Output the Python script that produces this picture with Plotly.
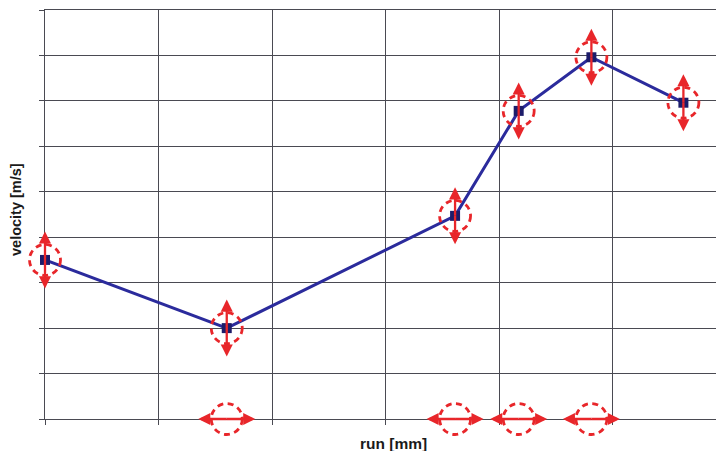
import plotly.graph_objects as go

# Measured run positions [mm grid units] and velocities [m/s grid units]
run_pos = [0.0, 1.6, 3.61, 4.17, 4.81, 5.62]
velocity = [3.5, 2.0, 4.47, 6.78, 7.96, 6.96]

# Points whose run position is uncertain (shown on the run axis)
run_uncertain = [1.6, 3.61, 4.17, 4.81]

x_title = "run [mm]"
y_title = "velocity [m/s]"

RED = "#e8262a"
NAVY = "#2b2b9c"
GRID = "#4a4a52"

X_RANGE = [0, 5.907]
Y_RANGE = [0, 9]


def px(v):
    return (v - X_RANGE[0]) / (X_RANGE[1] - X_RANGE[0])


def py(v):
    return (v - Y_RANGE[0]) / (Y_RANGE[1] - Y_RANGE[0])


fig = go.Figure()

fig.add_trace(go.Scatter(
    x=run_pos, y=velocity, mode="lines+markers",
    line=dict(color=NAVY, width=3),
    marker=dict(symbol="square", size=10, color="#1c1c6a"),
    cliponaxis=False, showlegend=False, hoverinfo="skip",
))

shapes = []
annotations = []


def dashed_ring(x, y):
    # paper-referenced so rings on the plot edge are not clipped
    return dict(
        type="circle", xref="paper", yref="paper",
        xsizemode="pixel", ysizemode="pixel",
        xanchor=px(x), yanchor=py(y), x0=-15.5, x1=15.5, y0=-15.5, y1=15.5,
        line=dict(color=RED, width=2.8, dash="6px,4.5px"),
        layer="above",
    )


def half_arrow(x, y, dx, dy):
    # arrow drawn from the point outwards, head at the outer end
    return dict(
        x=x, y=y, xref="x", yref="y", text="",
        showarrow=True, ax=dx, ay=dy,
        arrowside="start", startarrowhead=2, startarrowsize=1.05,
        arrowwidth=2.3, arrowcolor=RED,
    )


# Velocity uncertainty: ring plus vertical double arrow at each point
for xv, yv in zip(run_pos, velocity):
    shapes.append(dashed_ring(xv, yv))
    annotations.append(half_arrow(xv, yv, 0, -30))
    annotations.append(half_arrow(xv, yv, 0, 30))

# Run uncertainty: ring plus horizontal double arrow on the run axis
for xv in run_uncertain:
    shapes.append(dashed_ring(xv, 0))
    annotations.append(half_arrow(xv, 0, -30, 0))
    annotations.append(half_arrow(xv, 0, 30, 0))

annotations.append(dict(
    text=f"<b>{x_title}</b>", xref="paper", yref="paper",
    x=(393 - 45) / 671, y=-25 / 409, xanchor="center", yanchor="middle",
    showarrow=False, font=dict(size=15.5, color="#1a1a1a"),
))
annotations.append(dict(
    text=f"<b>{y_title}</b>", xref="paper", yref="paper",
    x=-29 / 671, y=(419 - 210) / 409, xanchor="center", yanchor="middle",
    textangle=-90, showarrow=False, font=dict(size=14.5, color="#1a1a1a"),
))

fig.update_layout(
    width=716, height=451,
    margin=dict(l=45, r=0, t=10, b=32),
    paper_bgcolor="white", plot_bgcolor="white",
    font=dict(family="Liberation Sans, Arial, sans-serif"),
    shapes=shapes, annotations=annotations,
    xaxis=dict(
        range=X_RANGE, tickvals=[0, 1, 2, 3, 4, 5], showticklabels=False,
        showgrid=True, gridcolor=GRID, gridwidth=1.3,
        ticks="outside", ticklen=5, tickcolor=GRID, tickwidth=1.3,
        showline=True, linecolor=GRID, linewidth=1.3, mirror=True,
        zeroline=False, fixedrange=True,
    ),
    yaxis=dict(
        range=Y_RANGE, tickvals=list(range(10)), showticklabels=False,
        showgrid=True, gridcolor=GRID, gridwidth=1.3,
        ticks="outside", ticklen=5, tickcolor=GRID, tickwidth=1.3,
        showline=True, linecolor=GRID, linewidth=1.3, mirror=False,
        zeroline=False, fixedrange=True,
    ),
)

fig.write_html("out.html")
